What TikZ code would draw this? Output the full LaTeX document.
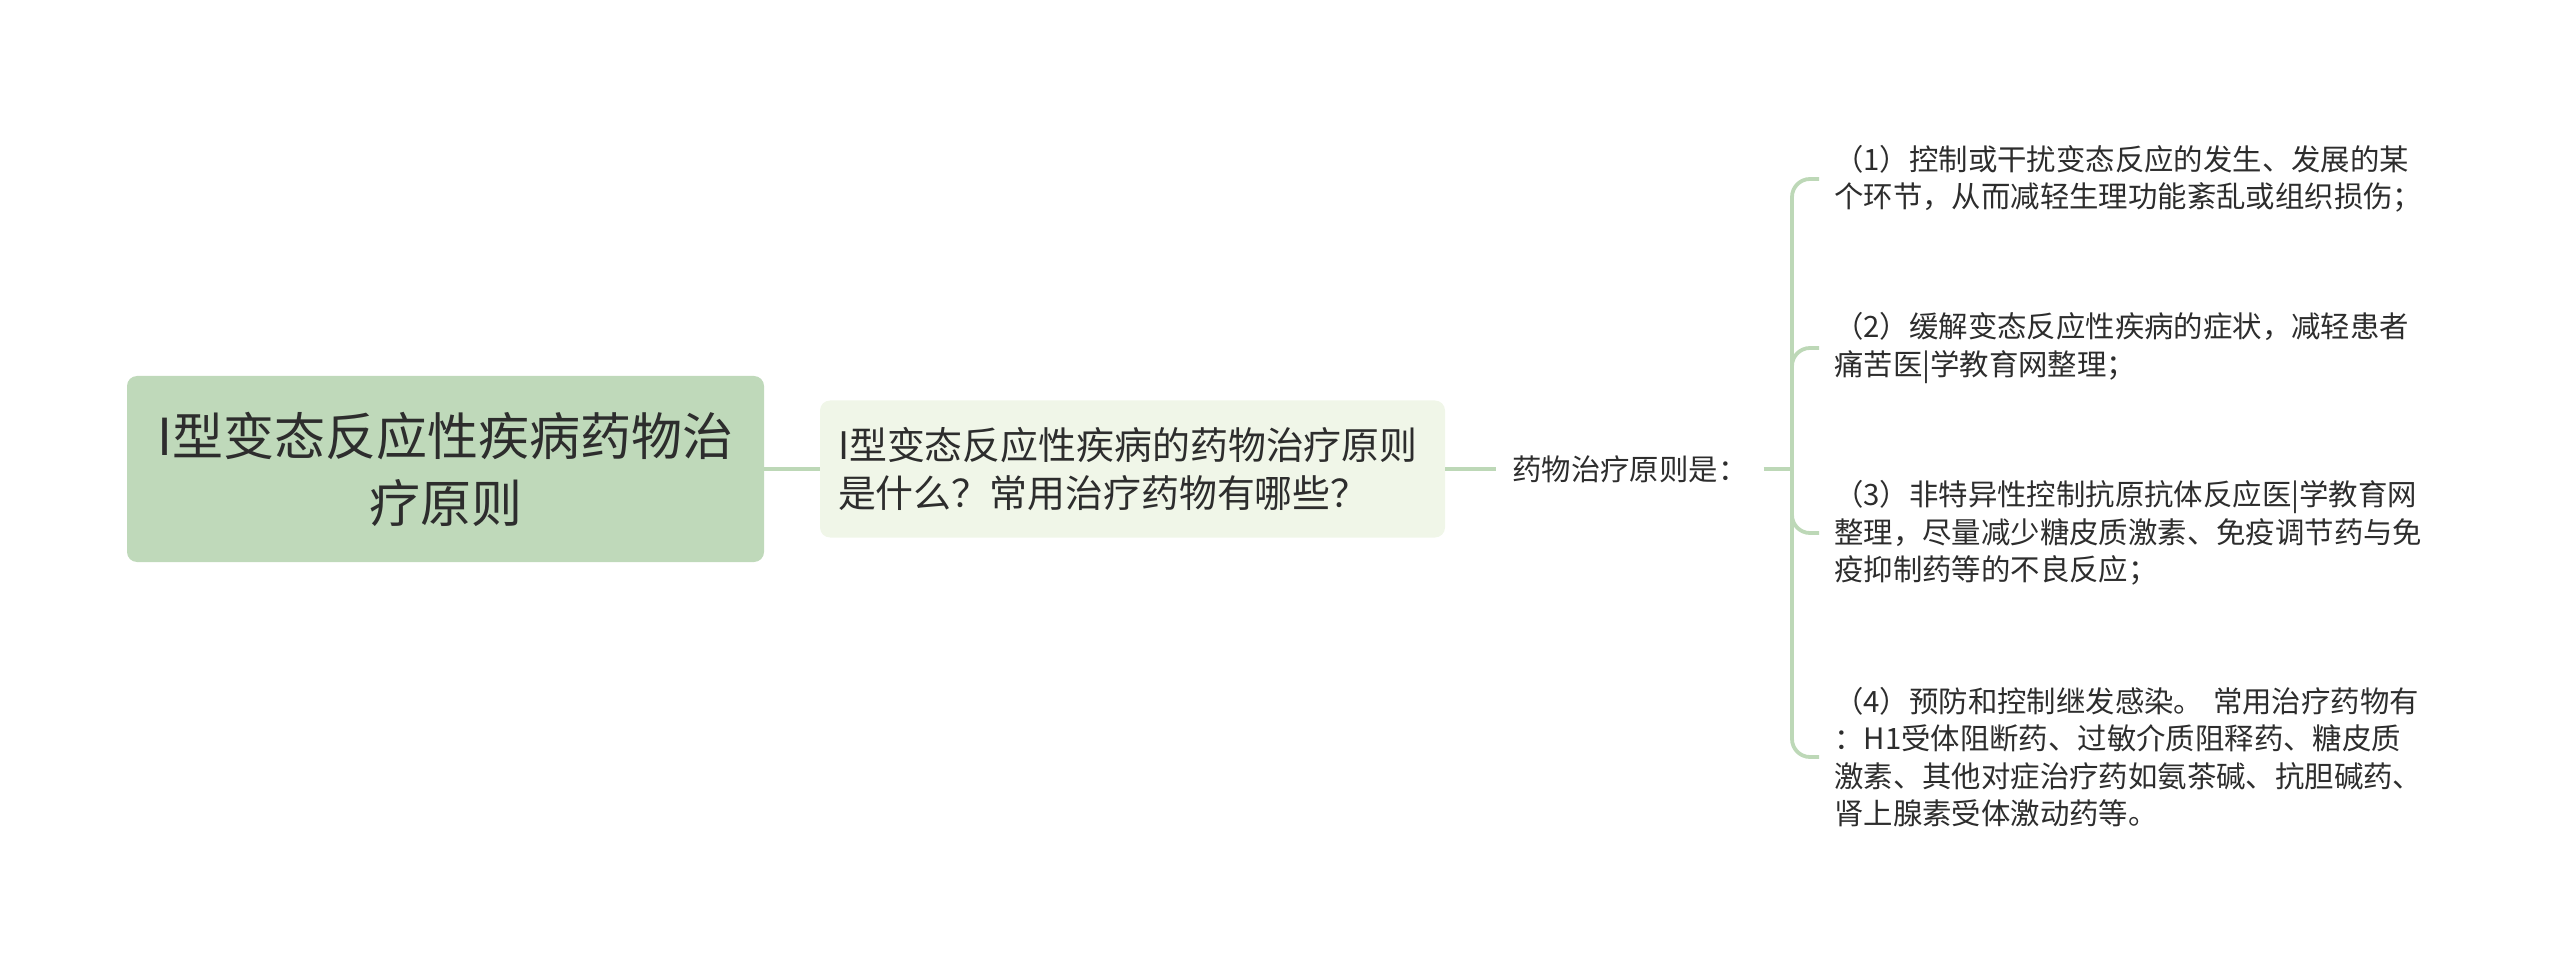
\documentclass[tikz,border=0pt]{standalone}
\usepackage{fontspec}
\setmainfont{Noto Sans CJK SC}
\definecolor{linec}{RGB}{189,216,183}
\definecolor{rootc}{RGB}{191,217,186}
\definecolor{subc}{RGB}{240,246,232}
\definecolor{txt}{RGB}{45,45,45}
\begin{document}
\begin{tikzpicture}[x=1pt,y=-1pt,
  conn/.style={draw=linec, line width=3.8pt},
  rootbox/.style={fill=rootc, rounded corners=10pt, minimum width=637pt, minimum height=186pt, align=center, text=txt, font=\fontsize{51}{67}\selectfont, inner sep=0pt},
  subbox/.style={fill=subc, rounded corners=10pt, minimum height=137pt, text width=589pt, inner xsep=18pt, align=left, text=txt, font=\fontsize{37.9}{48}\selectfont},
  plainlbl/.style={text=txt, font=\fontsize{29.4}{37.5}\selectfont, inner xsep=16pt, inner ysep=0pt},
  itemlbl/.style={text=txt, font=\fontsize{29.4}{37.5}\selectfont, inner xsep=15pt, inner ysep=0pt, text width=640pt, align=left, anchor=west}]
\useasboundingbox (0,0) rectangle (2560,973);
\node[rootbox] (root) at (445.5,469) {I型变态反应性疾病药物治\\疗原则};
\node[subbox] (sub) at (1132.5,469) {I型变态反应性疾病的药物治疗原则\\是什么？常用治疗药物有哪些？};
\node[plainlbl, anchor=west] (mid) at (1496,469) {药物治疗原则是：};
\coordinate (hub) at (1792,469);
\node[itemlbl] (i1) at (1819,179) {（1）控制或干扰变态反应的发生、发展的某\\个环节，从而减轻生理功能紊乱或组织损伤；};
\node[itemlbl] (i2) at (1819,348) {（2）缓解变态反应性疾病的症状，减轻患者\\痛苦医|学教育网整理；};
\node[itemlbl] (i3) at (1819,533) {（3）非特异性控制抗原抗体反应医|学教育网\\整理，尽量减少糖皮质激素、免疫调节药与免\\疫抑制药等的不良反应；};
\node[itemlbl] (i4) at (1819,757) {（4）预防和控制继发感染。 常用治疗药物有\\：H1受体阻断药、过敏介质阻释药、糖皮质\\激素、其他对症治疗药如氨茶碱、抗胆碱药、\\肾上腺素受体激动药等。};
\draw[conn] (root.east) -- (sub.west);
\draw[conn] (sub.east) -- (mid.west);
\draw[conn] (mid.east) -- (hub);
\foreach \n in {i1,i2,i3,i4} \draw[conn, rounded corners=18pt] (hub) |- (\n.west);
\end{tikzpicture}
\end{document}
